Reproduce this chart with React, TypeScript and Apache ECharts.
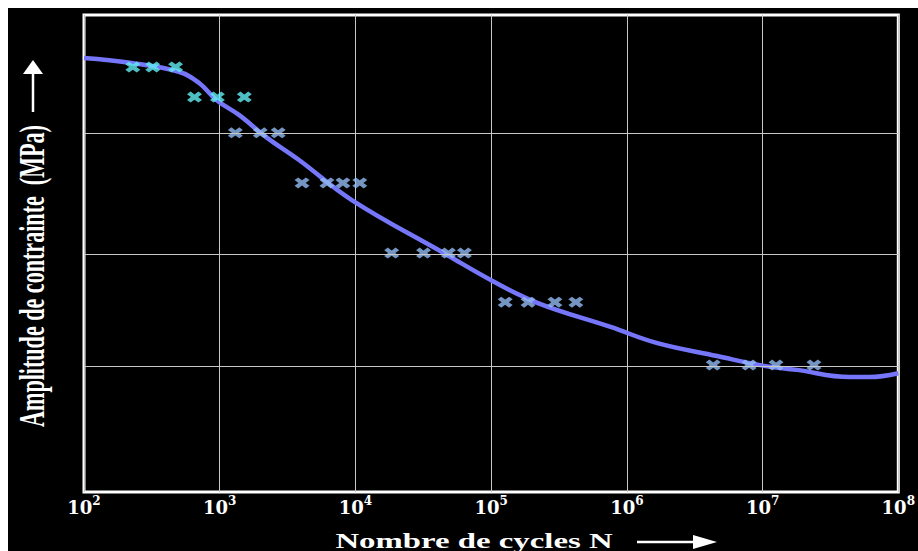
import React, { useEffect, useRef } from "react";
import * as echarts from "echarts";

// S-N (Wöhler) curve
const curveCycles = [100, 217, 506, 709, 945, 1394, 2199, 3841, 9400, 45980, 100000, 221200, 759200, 1679000, 4626000, 9560000, 17860000, 43720000, 61300000, 100000000];
const curveStress = [91.0, 90.0, 88.05, 85.7, 82.2, 79.0, 74.4, 69.6, 61.2, 49.9, 44.4, 39.6, 34.6, 31.2, 28.5, 26.6, 25.6, 24.1, 24.1, 24.9];

// low-cycle test points (cyan)
const lowCycles = [229, 321, 473, 652, 962, 1518];
const lowStress = [89.1, 89.1, 89.1, 82.8, 82.8, 82.8];

// other test points (light blue)
const testCycles = [1304, 1990, 2697, 4043, 6166, 8090, 10770, 18500, 31770, 48430, 63530, 126900, 187000, 295000, 420900, 4330000, 7960000, 12560000, 23900000];
const testStress = [75.3, 75.3, 75.3, 64.8, 64.8, 64.8, 64.8, 50.1, 50.1, 50.1, 50.1, 39.8, 39.8, 39.8, 39.8, 26.6, 26.6, 26.6, 26.6];

// horizontal grid lines
const gridStress = [75.3, 49.9, 26.4];

const xTitle = "Nombre de cycles N";
const yTitle = "Amplitude de contrainte  (MPa)";

const CROSS = "path://M0,2.4L2.4,0L5,2.6L7.6,0L10,2.4L7.4,5L10,7.6L7.6,10L5,7.4L2.4,10L0,7.6L2.6,5Z";

export default function App() {
  const ref = useRef<HTMLDivElement>(null);
  useEffect(() => {
    const chart = echarts.init(ref.current!, null, { renderer: "svg" });
    const labelFont = { fontFamily: "DejaVu Serif", fontWeight: "bold" as const, color: "#fff" };
    chart.setOption({
      animation: false,
      backgroundColor: "#000",
      grid: {
        left: 76, right: 16, top: 7, bottom: 59,
        show: true, borderColor: "#fff", borderWidth: 3, backgroundColor: "transparent",
      },
      xAxis: {
        type: "log", logBase: 10, min: 100, max: 1e8, splitNumber: 6,
        axisLine: { show: false }, axisTick: { show: false },
        splitLine: { show: true, lineStyle: { color: "#c8c8c8", width: 1 } },
        axisLabel: {
          show: true, showMinLabel: true, showMaxLabel: true, margin: 3,
          formatter: (v: number) => `{a|10}{b|${Math.round(Math.log10(v))}}`,
          rich: {
            a: { ...labelFont, fontSize: 18, lineHeight: 21, verticalAlign: "bottom" },
            b: { ...labelFont, fontSize: 12, lineHeight: 12, verticalAlign: "top" },
          },
        },
      },
      yAxis: { type: "value", min: 0, max: 100, show: false },
      series: [
        {
          type: "line", data: [], z: 1, silent: true,
          markLine: {
            silent: true, symbol: ["none", "none"], label: { show: false },
            lineStyle: { color: "#c8c8c8", width: 1, type: "solid" },
            data: gridStress.map((v) => ({ yAxis: v })),
          },
        },
        {
          type: "line", z: 2, smooth: 0.4, showSymbol: false, symbol: "none",
          lineStyle: { color: "#7676fa", width: 4.5 },
          data: curveCycles.map((n, i) => [n, curveStress[i]]),
        },
        {
          type: "scatter", z: 3, symbol: CROSS, symbolSize: [15, 11],
          itemStyle: { color: "#62eef2" },
          data: lowCycles.map((n, i) => [n, lowStress[i]]),
        },
        {
          type: "scatter", z: 3, symbol: CROSS, symbolSize: [15, 11],
          itemStyle: { color: "#92bcf2" },
          data: testCycles.map((n, i) => [n, testStress[i]]),
        },
      ],
      graphic: [
        {
          type: "text", x: 23, y: 268, rotation: Math.PI / 2, scaleX: 0.614,
          style: { text: yTitle, fill: "#fff", fontSize: 36, fontFamily: "Liberation Serif", fontWeight: "bold", align: "center", verticalAlign: "middle" },
        },
        { type: "line", shape: { x1: 25, y1: 104, x2: 25, y2: 64 }, style: { stroke: "#fff", lineWidth: 2.5 } },
        { type: "polygon", shape: { points: [[15, 66], [25, 52], [35, 66]] }, style: { fill: "#fff" } },
        {
          type: "text", x: 466, y: 533, scaleX: 1.64,
          style: { text: xTitle, fill: "#fff", fontSize: 20, lineHeight: 18, fontFamily: "Liberation Serif", fontWeight: "bold", align: "center", verticalAlign: "middle" },
        },
        { type: "line", shape: { x1: 629, y1: 534, x2: 688, y2: 534 }, style: { stroke: "#fff", lineWidth: 2.5 } },
        { type: "polygon", shape: { points: [[685, 527], [709, 534], [685, 541]] }, style: { fill: "#fff" } },
      ],
    });
    return () => chart.dispose();
  }, []);
  return <div ref={ref} style={{ position: "fixed", left: 8, top: 8, width: 910, height: 543 }} />;
}
